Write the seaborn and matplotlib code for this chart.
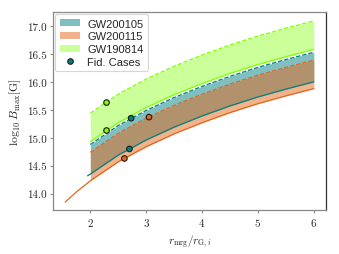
import matplotlib
matplotlib.use("Agg")
import matplotlib.pyplot as plt
import seaborn as sns
import pandas as pd
from matplotlib.patches import Patch
from matplotlib.lines import Line2D

# radius grid (r_mrg / r_G,i) and curves
r = [2.0, 2.5, 3.0, 3.5, 4.0, 4.5, 5.0, 5.5, 6.0]

gw190814_hi = [15.44, 15.78, 16.05, 16.28, 16.48, 16.66, 16.82, 16.96, 17.09]
gw190814_lo = [14.93, 15.27, 15.54, 15.77, 15.97, 16.15, 16.31, 16.45, 16.58]

gw200105_hi = [14.88, 15.22, 15.49, 15.72, 15.92, 16.10, 16.26, 16.40, 16.53]
gw200105_lo = [14.35, 14.69, 14.96, 15.19, 15.39, 15.57, 15.73, 15.87, 16.00]
gw200105_lo_x = [1.95] + r
gw200105_lo_ext = [14.32] + gw200105_lo

gw200115_hi = [14.74, 15.08, 15.35, 15.58, 15.78, 15.96, 16.12, 16.26, 16.39]
gw200115_lo = [14.23, 14.57, 14.84, 15.07, 15.27, 15.45, 15.61, 15.75, 15.88]
gw200115_lo_x = [1.55, 1.75] + r
gw200115_lo_ext = [13.85, 14.03] + gw200115_lo

# fiducial cases
fid_event = ["GW190814", "GW190814", "GW200105", "GW200105", "GW200115", "GW200115"]
fid_r = [2.29, 2.29, 2.73, 2.70, 3.05, 2.61]
fid_B = [15.63, 15.13, 15.35, 14.80, 15.37, 14.63]

colors = {"GW200105": "#008080", "GW200115": "#e4661a", "GW190814": "#7fff00"}
fill_alpha = {"GW200105": 0.5, "GW200115": 0.5, "GW190814": 0.4}

sns.set_style("white")
plt.rcParams["font.family"] = "serif"
plt.rcParams["font.serif"] = ["cmr10", "DejaVu Serif"]
plt.rcParams["mathtext.fontset"] = "cm"
plt.rcParams["axes.formatter.use_mathtext"] = True

fig = plt.figure(figsize=(3.39, 2.55), dpi=100)
ax = fig.add_axes([0.156, 0.173, 0.806, 0.776])

bands = [
    ("GW190814", r, gw190814_hi, gw190814_lo, r, gw190814_lo),
    ("GW200105", r, gw200105_hi, gw200105_lo, gw200105_lo_x, gw200105_lo_ext),
    ("GW200115", r, gw200115_hi, gw200115_lo, gw200115_lo_x, gw200115_lo_ext),
]
for name, x, hi, lo, lo_x, lo_line in bands:
    c = colors[name]
    ax.fill_between(x, lo, hi, color=c, alpha=fill_alpha[name], lw=0)
    sns.lineplot(x=x, y=hi, ax=ax, color=c, lw=0.9, linestyle=(0, (3.5, 1.5)))
    sns.lineplot(x=lo_x, y=lo_line, ax=ax, color=c, lw=0.9)

fid = pd.DataFrame({"event": fid_event, "r": fid_r, "B": fid_B})
sns.scatterplot(data=fid, x="r", y="B", hue="event", palette=colors, ax=ax,
                s=16, edgecolor="#1a1a1a", linewidth=0.8, legend=False, zorder=5)

ax.set_xlim(1.33, 6.22)
ax.set_ylim(13.71, 17.25)
ax.set_xticks([2, 3, 4, 5, 6])
ax.set_yticks([14.0, 14.5, 15.0, 15.5, 16.0, 16.5, 17.0])
ax.set_yticklabels(["14.0", "14.5", "15.0", "15.5", "16.0", "16.5", "17.0"])
ax.tick_params(axis="both", labelsize=8, direction="out", length=2.5, width=0.8,
               color="#888888", bottom=True, left=True, pad=2)
for side in ["left", "bottom", "top"]:
    ax.spines[side].set_color("#888888")
ax.spines["right"].set_color("#333333")
for s in ax.spines.values():
    s.set_linewidth(0.9)

ax.set_xlabel(r"$r_{\rm mrg}/r_{{\rm G},i}$", fontsize=8, labelpad=3)
ax.set_ylabel(r"$\log_{10}B_{\rm max}[\rm G]$", fontsize=8.5, labelpad=3)

handles = [
    Patch(facecolor=colors["GW200105"], alpha=0.5, edgecolor="none", label="GW200105"),
    Patch(facecolor=colors["GW200115"], alpha=0.5, edgecolor="none", label="GW200115"),
    Patch(facecolor=colors["GW190814"], alpha=0.4, edgecolor="none", label="GW190814"),
    Line2D([], [], marker="o", ls="none", markersize=4, markerfacecolor=colors["GW200105"],
           markeredgecolor="#1a1a1a", markeredgewidth=0.8, label="Fid. Cases"),
]
leg = ax.legend(handles=handles, loc="upper left", prop={"family": "Liberation Sans", "size": 8},
                frameon=True, handlelength=1.8, handleheight=0.6, handletextpad=0.7,
                borderaxespad=0.2, borderpad=0.4, labelspacing=0.25, fancybox=True)
leg.get_frame().set_edgecolor("#cccccc")
leg.get_frame().set_linewidth(0.8)

fig.savefig("out.png", dpi=100)
